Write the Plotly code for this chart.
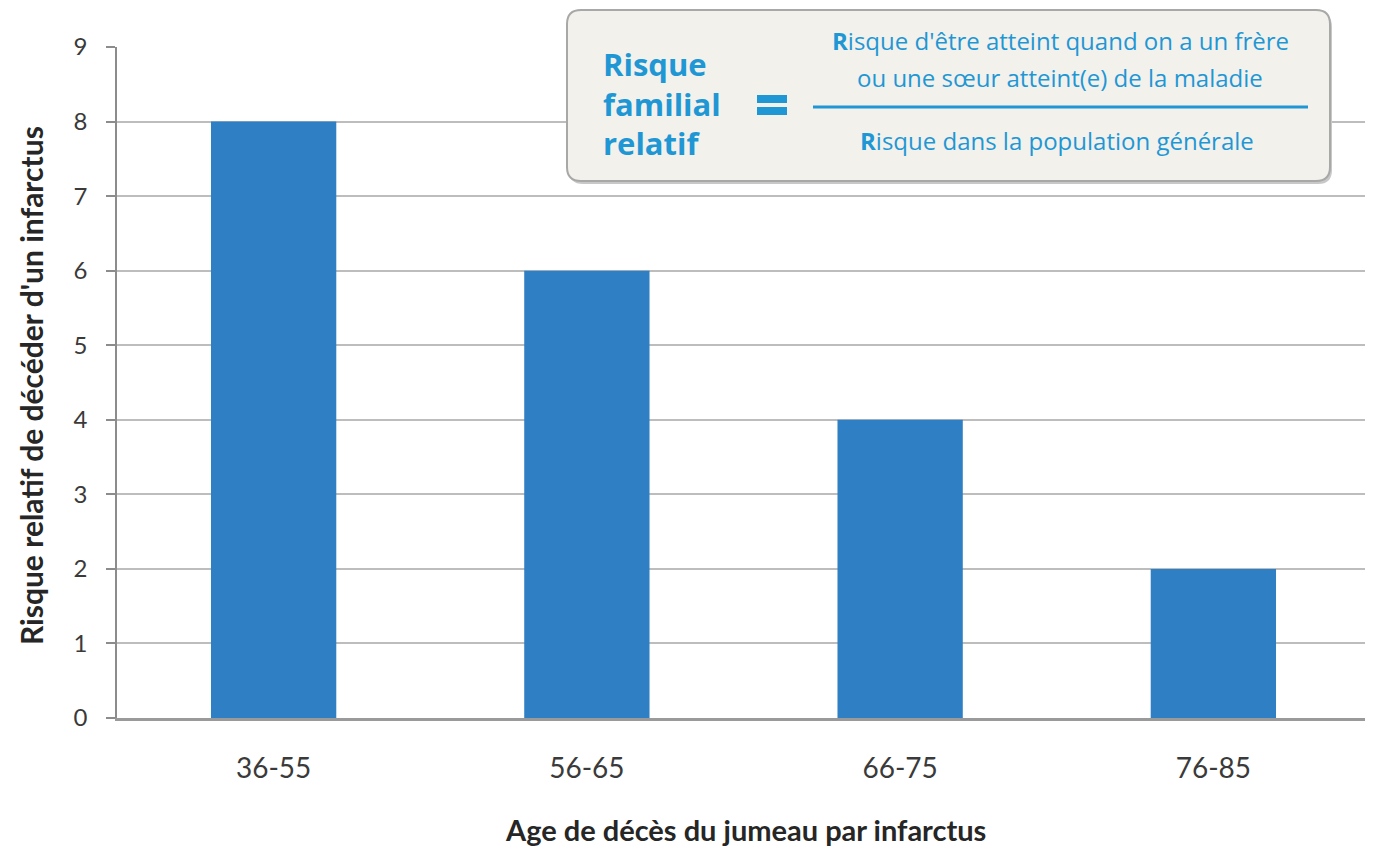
import plotly.graph_objects as go

categories = ["36-55", "56-65", "66-75", "76-85"]
values = [8, 6, 4, 2]
y_ticks = list(range(0, 10))

x_title = "Age de décès du jumeau par infarctus"
y_title = "Risque relatif de décéder d'un infarctus"

# target plot area in screenshot pixels (page has an 8px body margin)
X0, X1, Y0, Y1 = 117, 1370, 47, 718
OFF = 8
W, H = 1365, 838
L, T = X0 - OFF, Y0 - OFF
R, B = W - (X1 - OFF), H - (Y1 - OFF)
pw, ph = X1 - X0, Y1 - Y0

def px(x):
    return (x - X0) / pw

def py(y):
    return (Y1 - y) / ph

BLUE_TXT = "#1f97d4"
FONT = "Lato"
BOXFONT = "Open Sans"

fig = go.Figure()
fig.add_trace(go.Bar(x=categories, y=values, marker=dict(color="#2e7fc4", line=dict(width=0)), width=0.4))

# rounded box
def rounded(xa, xb, ya, yb, r):
    x0, x1, y0, y1 = px(xa), px(xb), py(yb), py(ya)
    rx, ry = r / pw, r / ph
    return (f"M {x0+rx},{y0} L {x1-rx},{y0} Q {x1},{y0} {x1},{y0+ry} L {x1},{y1-ry} "
            f"Q {x1},{y1} {x1-rx},{y1} L {x0+rx},{y1} Q {x0},{y1} {x0},{y1-ry} "
            f"L {x0},{y0+ry} Q {x0},{y0} {x0+rx},{y0} Z")

shapes = [
    dict(type="path", path=rounded(569, 1332, 13, 184, 14), xref="paper", yref="paper",
         fillcolor="#c8c8c8", line=dict(width=0), layer="above"),
    dict(type="path", path=rounded(567, 1330, 10, 181, 14), xref="paper", yref="paper",
         fillcolor="#f2f1ec", line=dict(color="#a8a8a8", width=2), layer="above"),
    dict(type="line", xref="paper", yref="paper", x0=px(813), x1=px(1308), y0=py(107), y1=py(107),
         line=dict(color=BLUE_TXT, width=3), layer="above"),
    dict(type="rect", xref="paper", yref="paper", x0=px(757), x1=px(787), y0=py(103), y1=py(95),
         fillcolor=BLUE_TXT, line=dict(width=0), layer="above"),
    dict(type="rect", xref="paper", yref="paper", x0=px(757), x1=px(787), y0=py(115), y1=py(107),
         fillcolor=BLUE_TXT, line=dict(width=0), layer="above"),
]

def ann(x, y, text, size, bold=False, xanchor="center"):
    return dict(x=px(x), y=py(y), xref="paper", yref="paper", xanchor=xanchor, yanchor="middle",
                text=f"<b>{text}</b>" if bold else text, showarrow=False,
                font=dict(family=BOXFONT, size=size, color=BLUE_TXT))

annotations = [
    ann(601, 64, "Risque", 31, True, "left"),
    ann(601, 104, "familial", 31, True, "left"),
    ann(601, 143, "relatif", 31, True, "left"),
    ann(1060, 40, "<b>R</b>isque d'être atteint quand on a un frère", 24),
    ann(1060, 77, "ou une sœur atteint(e) de la maladie", 24),
    ann(1057, 140, "<b>R</b>isque dans la population générale", 24),
    dict(x=px(745), y=py(830), xref="paper", yref="paper", xanchor="center", yanchor="middle",
         text=f"<b>{x_title}</b>", showarrow=False,
         font=dict(family=FONT, size=29, color="#262626")),
    dict(x=px(31), y=py(386), xref="paper", yref="paper", xanchor="center", yanchor="middle",
         text=f"<b>{y_title}</b>", showarrow=False, textangle=-90,
         font=dict(family=FONT, size=30, color="#262626")),
]

fig.update_layout(
    width=W, height=H,
    margin=dict(l=L, r=R, t=T, b=B),
    plot_bgcolor="white", paper_bgcolor="white",
    showlegend=False,
    shapes=shapes,
    annotations=annotations,
    font=dict(family=FONT, color="#333333"),
)
fig.update_yaxes(
    range=[0, 9], tickvals=y_ticks, ticktext=[str(v) for v in y_ticks],
    showgrid=True, gridcolor="#bdbdbd", gridwidth=1.5,
    showline=True, linecolor="#8c8c8c", linewidth=1.5,
    ticks="outside", ticklen=9, tickcolor="#8c8c8c", tickwidth=1.5,
    tickfont=dict(family=FONT, size=24, color="#3a3a3a"),
    ticklabelstandoff=14,
    zeroline=False,
)
fig.update_xaxes(
    showline=True, linecolor="#9a9a9a", linewidth=2.5,
    ticks="", tickfont=dict(family=FONT, size=28, color="#3a3a3a"),
    ticklabelstandoff=24,
)

fig.write_html("out.html")
